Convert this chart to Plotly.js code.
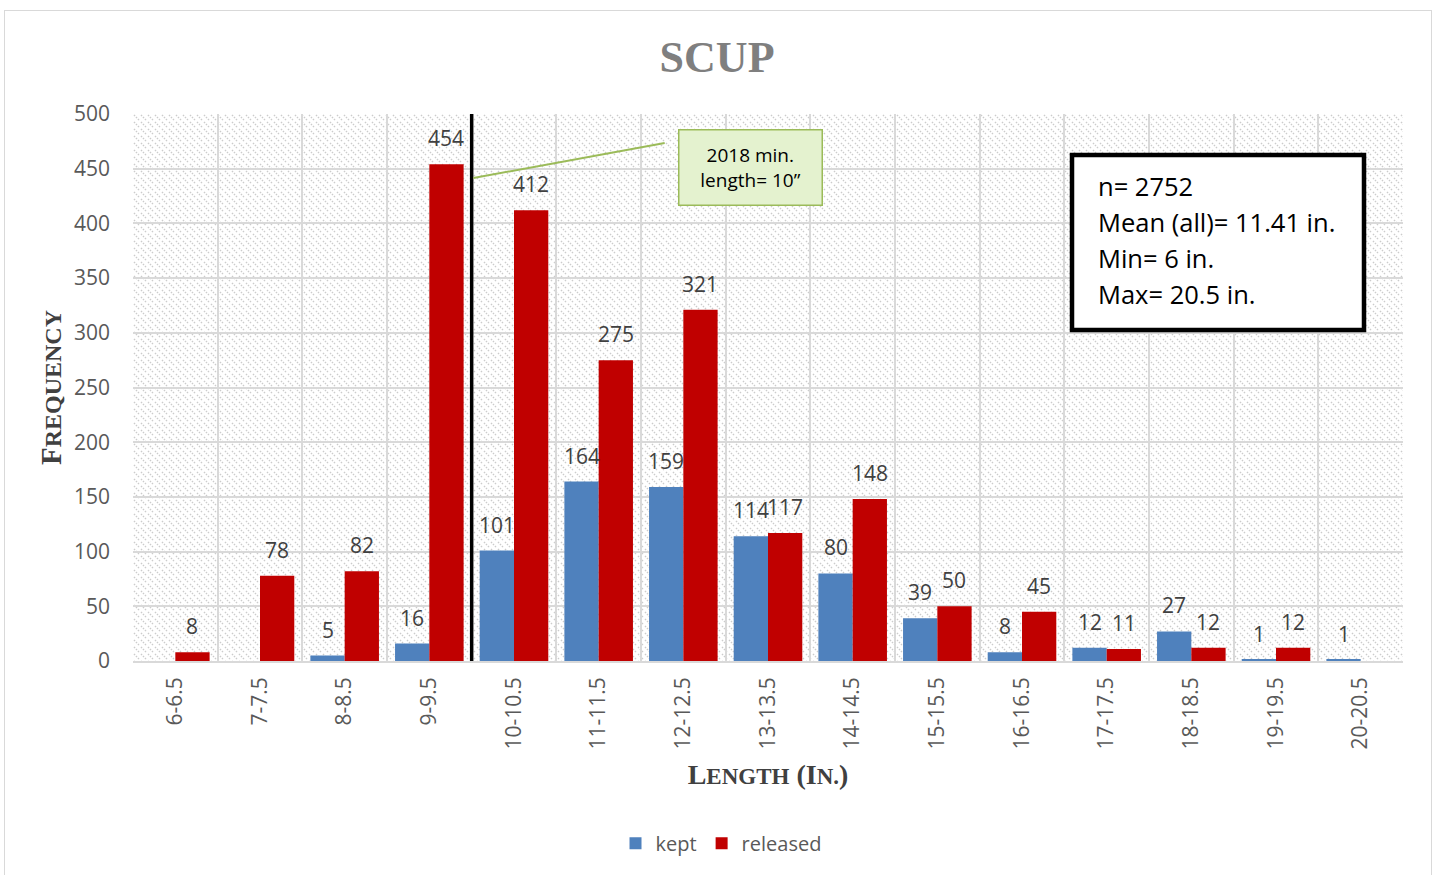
<!DOCTYPE html>
<html>
<head>
<meta charset="utf-8">
<script src="https://cdn.plot.ly/plotly-3.0.1.min.js"></script>
<style>
  html, body { margin: 0; padding: 0; background: #ffffff; }
  #wrap { position: relative; width: 1437px; height: 875px; overflow: hidden; }
  #chart { width: 1437px; height: 875px; }
  #frame { position: absolute; left: 4px; top: 10px; width: 1426px; height: 870px;
           border: 1.5px solid #d9d9d9; pointer-events: none; }
</style>
</head>
<body>
<div id="wrap">
  <div id="chart"></div>
  <div id="frame"></div>
</div>
<script>
// ---- data ----
const categories = ["6-6.5","7-7.5","8-8.5","9-9.5","10-10.5","11-11.5","12-12.5","13-13.5",
                    "14-14.5","15-15.5","16-16.5","17-17.5","18-18.5","19-19.5","20-20.5"];
const kept     = [0, 0, 5, 16, 101, 164, 159, 114, 80, 39, 8, 12, 27, 1, 1];
const released = [8, 78, 82, 454, 412, 275, 321, 117, 148, 50, 45, 11, 12, 12, 0];
const seriesNames = ["kept", "released"];
const yTicks = [0, 50, 100, 150, 200, 250, 300, 350, 400, 450, 500];
const statsLines = ["n= 2752", "Mean (all)= 11.41 in.", "Min= 6 in.", "Max= 20.5 in."];
const minLengthBoundary = 3.5;   // between 9-9.5 and 10-10.5
const calloutText = "2018 min.<br>length= 10\u201d";

const FONT = "Open Sans, Lato, sans-serif";
const SERIF = "Liberation Serif, DejaVu Serif, serif";

const traces = [
  {
    type: "bar", name: seriesNames[0], x: categories, y: kept,
    marker: { color: "#4f81bd", line: { width: 0 } },
    hoverinfo: "x+y"
  },
  {
    type: "bar", name: seriesNames[1], x: categories, y: released,
    marker: { color: "#c00000", line: { width: 0 } },
    hoverinfo: "x+y"
  }
];

// hatched plot background
const PW = 1270, PH = 547;
const svg =
  '<svg xmlns="http://www.w3.org/2000/svg" width="' + PW + '" height="' + PH + '">' +
  '<defs><pattern id="h" patternUnits="userSpaceOnUse" width="7" height="7">' +
  '<path d="M-1,-1 L8,8" stroke="#cccccc" stroke-width="1.4" stroke-dasharray="1.5,1.3"/>' +
  '</pattern></defs>' +
  '<rect width="100%" height="100%" fill="#ffffff"/>' +
  '<rect width="100%" height="100%" fill="url(#h)"/></svg>';
const bgSrc = "data:image/svg+xml;base64," + btoa(svg);

const annotations = [];
// bar value labels (placed at each bar's category/value through the axes)
const barHalf = 17.15;
[kept, released].forEach((vals, s) => {
  vals.forEach((v, i) => {
    if (v <= 0) return;
    annotations.push({
      xref: "x", yref: "y", x: categories[i], y: v,
      xshift: s === 0 ? -barHalf : barHalf, yshift: 10,
      xanchor: "center", yanchor: "bottom", showarrow: false,
      text: String(v), font: { family: FONT, size: 21, color: "#404040" }
    });
  });
});
// stats text lines
statsLines.forEach((t, i) => {
  annotations.push({
    xref: "paper", yref: "paper",
    x: (1096 - 133) / PW, y: (661 - (186 + i * 36)) / PH,
    xanchor: "left", yanchor: "middle", showarrow: false,
    text: t, font: { family: FONT, size: 25.5, color: "#000000" }
  });
});
// callout box
annotations.push({
  xref: "x", yref: "y", x: 6.79, y: 451.5,
  xanchor: "center", yanchor: "middle", showarrow: false,
  text: calloutText, width: 140, height: 72,
  bgcolor: "#e4f2cf", bordercolor: "#9bbb59", borderwidth: 1.5,
  font: { family: FONT, size: 19, color: "#000000" }
});

const shapes = [
  // min length line
  { type: "line", xref: "x", yref: "paper", x0: minLengthBoundary, x1: minLengthBoundary,
    y0: 0, y1: 1, line: { color: "#000000", width: 3.5 } },
  // callout connector
  { type: "line", xref: "x", yref: "y", x0: minLengthBoundary + 0.02, y0: 441.5,
    x1: 5.78, y1: 473.5, line: { color: "#9bbb59", width: 2 } },
  // stats box
  { type: "rect", xref: "paper", yref: "paper",
    x0: (1072 - 133) / PW, x1: (1364 - 133) / PW,
    y0: (661 - 330) / PH, y1: (661 - 155) / PH,
    fillcolor: "#ffffff", line: { color: "#000000", width: 4.5 } }
];

const layout = {
  width: 1437, height: 875,
  margin: { l: 133, r: 34, t: 114, b: 214, pad: 0 },
  paper_bgcolor: "#ffffff",
  plot_bgcolor: "rgba(0,0,0,0)",
  barmode: "group", bargap: 0.19, bargroupgap: 0,
  font: { family: FONT, color: "#595959" },
  title: {
    text: "SCUP", x: 0.499, xanchor: "center", y: 0.935, yanchor: "middle",
    font: { family: SERIF, size: 44, color: "#7f7f7f", weight: "bold" }
  },
  xaxis: {
    type: "category", tickson: "boundaries", tickangle: -90,
    showgrid: true, gridcolor: "#d9d9d9", gridwidth: 1.5,
    showline: true, linecolor: "#d9d9d9", linewidth: 1.5,
    ticks: "", ticklen: 0, ticklabelstandoff: 6,
    tickfont: { family: FONT, size: 21, color: "#595959" },
    title: {
      text: "L<span style=\"font-size:23px\">ENGTH</span> (I<span style=\"font-size:23px\">N.</span>)",
      font: { family: SERIF, size: 28, color: "#404040", weight: "bold" },
      standoff: 16
    },
    automargin: false
  },
  yaxis: {
    range: [0, 500], tickvals: yTicks, ticktext: yTicks.map(String),
    showgrid: true, gridcolor: "#d9d9d9", gridwidth: 1.5,
    zeroline: false, showline: false, ticks: "",
    tickfont: { family: FONT, size: 21, color: "#595959" },
    ticklabelstandoff: 22,
    title: {
      text: "F<span style=\"font-size:24px\">REQUENCY</span>",
      font: { family: SERIF, size: 29, color: "#404040", weight: "bold" },
      standoff: 3
    },
    automargin: false
  },
  legend: {
    orientation: "h", x: 0.463, xanchor: "center", y: -0.333, yanchor: "middle",
    font: { family: FONT, size: 20, color: "#595959" },
    itemwidth: 30, traceorder: "normal"
  },
  images: [{
    source: bgSrc, xref: "paper", yref: "paper", x: 0, y: 1, sizex: 1, sizey: 1,
    xanchor: "left", yanchor: "top", sizing: "stretch", layer: "below"
  }],
  shapes: shapes,
  annotations: annotations,
  showlegend: true
};

Plotly.newPlot("chart", traces, layout, { displayModeBar: false, responsive: false });
</script>
</body>
</html>
